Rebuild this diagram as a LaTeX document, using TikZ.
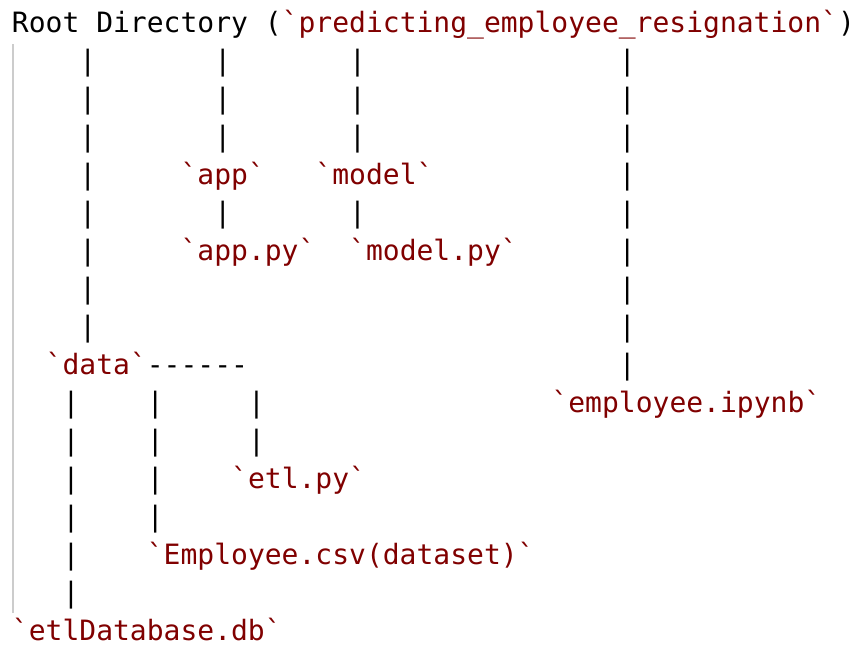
\documentclass[tikz,border=0pt]{standalone}
\usepackage{fontspec}
\setmonofont{DejaVu Sans Mono}
\definecolor{maroon}{RGB}{128,0,0}
\definecolor{quotebar}{RGB}{204,204,204}
\newcommand\chunk[5]{\node[#1] (#2) at ({12+#3*16.86},{-32.5-38*#4}) {#5};}
\begin{document}
\begin{tikzpicture}[x=1pt,y=1pt,
  txt/.style={anchor=base west, inner sep=0pt, outer sep=0pt, text=black,
              font=\ttfamily\fontsize{28}{38}\selectfont},
  lbl/.style={txt, text=maroon},
  bar/.style={draw=quotebar, line width=2pt}]
\useasboundingbox (0,0) rectangle (856,-656);
% quote bar
\coordinate (bartop) at (13,-44);
\coordinate (barbot) at (13,-613);
\draw[bar] (bartop) -- (barbot);
% row 0
\chunk{txt}{root}{0}{0}{Root Directory (}
\chunk{lbl}{rootname}{16}{0}{`predicting\_employee\_resignation`}
\chunk{txt}{rootclose}{49}{0}{)}
% vertical pipes of the upper part
\foreach \r in {1,...,8} {\chunk{txt}{pa\r}{4}{\r}{|}}
\foreach \r in {1,2,3,5} {\chunk{txt}{pb\r}{12}{\r}{|}}
\foreach \r in {1,2,3,5} {\chunk{txt}{pc\r}{20}{\r}{|}}
\foreach \r in {1,...,9} {\chunk{txt}{pd\r}{36}{\r}{|}}
% folders and files
\chunk{lbl}{app}{10}{4}{`app`}
\chunk{lbl}{model}{18}{4}{`model`}
\chunk{lbl}{apppy}{10}{6}{`app.py`}
\chunk{lbl}{modelpy}{20}{6}{`model.py`}
\chunk{lbl}{data}{2}{9}{`data`}
\chunk{txt}{dashes}{8}{9}{------}
\chunk{lbl}{ipynb}{32}{10}{`employee.ipynb`}
% lower pipes
\foreach \r in {10,...,15} {\chunk{txt}{pe\r}{3}{\r}{|}}
\foreach \r in {10,...,13} {\chunk{txt}{pf\r}{8}{\r}{|}}
\foreach \r in {10,11} {\chunk{txt}{pg\r}{14}{\r}{|}}
\chunk{lbl}{etl}{13}{12}{`etl.py`}
\chunk{lbl}{csv}{8}{14}{`Employee.csv(dataset)`}
\chunk{lbl}{db}{0}{16}{`etlDatabase.db`}
\end{tikzpicture}
\end{document}
